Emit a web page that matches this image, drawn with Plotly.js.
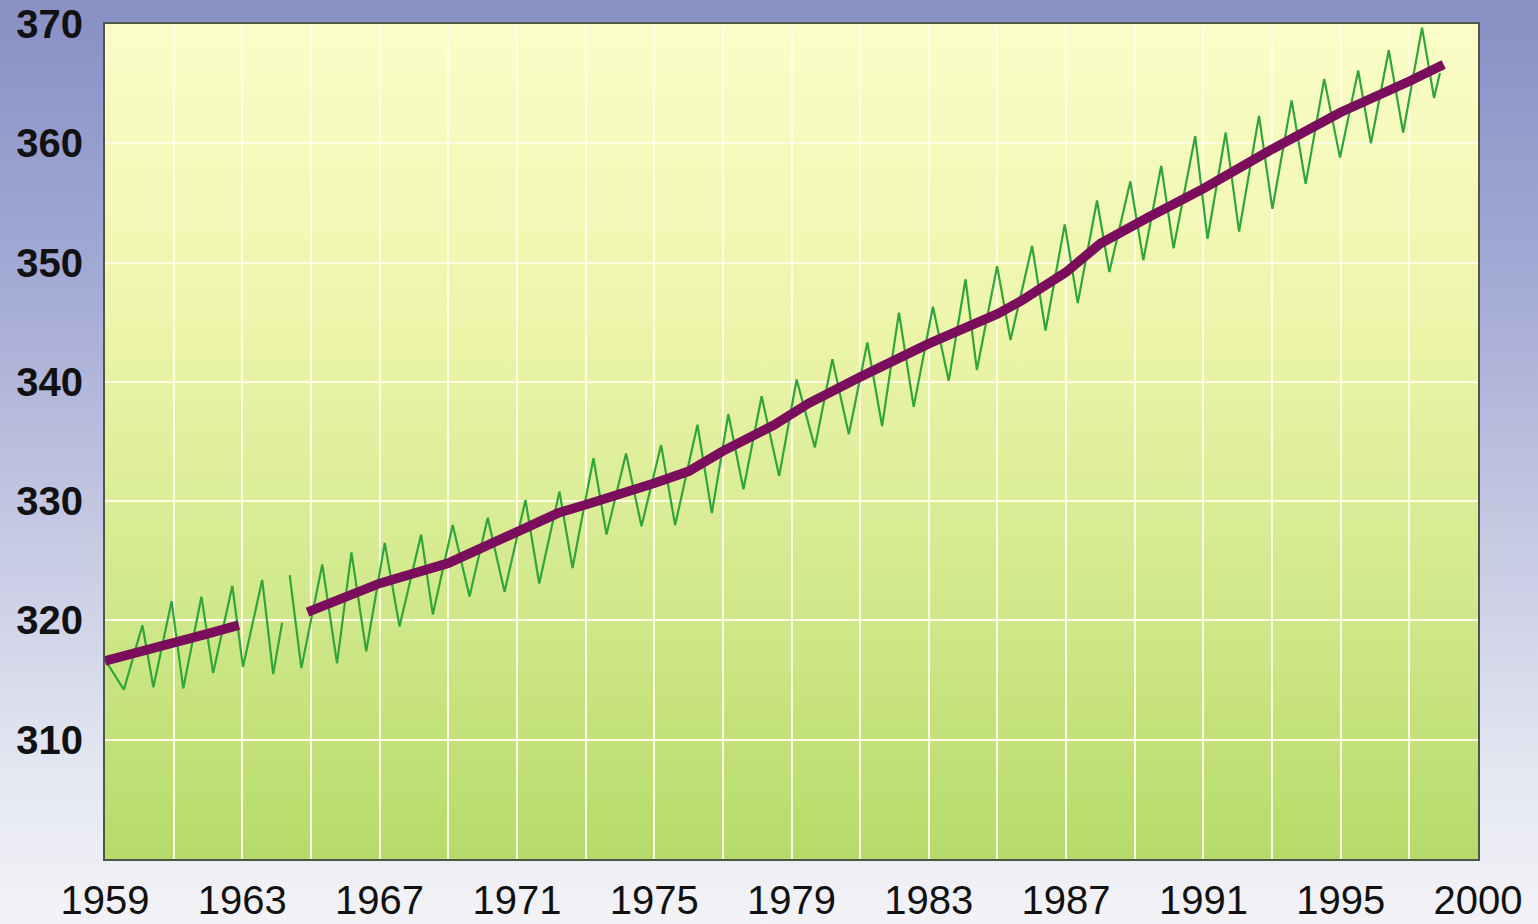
<!DOCTYPE html>
<html>
<head>
<meta charset="utf-8">
<script src="https://cdn.plot.ly/plotly-3.0.1.min.js"></script>
<style>
  html, body { margin: 0; padding: 0; width: 1538px; height: 924px; overflow: hidden;
    background: linear-gradient(to bottom, #8890c4 0%, #a3aad4 30%, #c8cce4 60%, #e6e8f2 85%, #f3f3f7 100%); }
  #chart { width: 1538px; height: 924px; }
</style>
</head>
<body>
<div id="chart"></div>
<script>
// Monthly (seasonal) CO2 curve: turning points; null = data gap
const seasonalYears = [
  1959.00, 1959.55, 1960.09, 1960.41, 1960.94, 1961.28, 1961.81, 1962.15, 1962.71, 1963.02,
  1963.58, 1963.90, 1964.16, 1964.27,
  1964.38, 1964.72, 1965.33, 1965.76, 1966.18, 1966.61, 1967.15, 1967.58, 1968.21, 1968.55,
  1969.13, 1969.62, 1970.15, 1970.64, 1971.25, 1971.65, 1972.24, 1972.62, 1973.23, 1973.61,
  1974.18, 1974.63, 1975.20, 1975.61, 1976.26, 1976.68, 1977.16, 1977.60, 1978.13, 1978.64,
  1979.15, 1979.68, 1980.19, 1980.67, 1981.21, 1981.64, 1982.13, 1982.56, 1983.12, 1983.58,
  1984.07, 1984.40, 1984.99, 1985.38, 1986.01, 1986.40, 1986.96, 1987.34, 1987.90, 1988.26,
  1988.87, 1989.25, 1989.77, 1990.13, 1990.76, 1991.12, 1991.65, 1992.04, 1992.62, 1993.01,
  1993.57, 1993.98, 1994.52, 1994.98, 1995.51, 1995.88, 1996.40, 1996.82, 1997.37, 1997.72,
  1997.89
];
const seasonalCO2 = [
  316.7, 314.2, 319.6, 314.4, 321.6, 314.3, 322.0, 315.6, 322.9, 316.1,
  323.4, 315.5, 319.8, null,
  323.8, 316.0, 324.7, 316.4, 325.7, 317.4, 326.5, 319.5, 327.2, 320.5,
  328.0, 322.0, 328.6, 322.4, 330.1, 323.1, 330.8, 324.4, 333.6, 327.2,
  334.0, 327.9, 334.7, 328.0, 336.4, 329.0, 337.3, 331.0, 338.8, 332.1,
  340.2, 334.5, 341.9, 335.6, 343.3, 336.3, 345.8, 337.9, 346.3, 340.1,
  348.6, 341.0, 349.7, 343.5, 351.4, 344.3, 353.2, 346.6, 355.2, 349.2,
  356.8, 350.2, 358.1, 351.2, 360.6, 352.0, 360.9, 352.6, 362.3, 354.5,
  363.6, 356.6, 365.4, 358.8, 366.1, 360.0, 367.8, 360.9, 369.7, 363.8,
  365.9
];

// Annual mean trend (thick purple line); null = data gap
const annualYears = [
  1959.0, 1960.0, 1961.0, 1962.0, 1962.9, 1964.0, 1964.9, 1967.0, 1969.0, 1971.0,
  1972.2, 1973.0, 1974.2, 1975.0, 1976.0, 1977.0, 1978.5, 1979.5, 1981.0, 1983.0,
  1985.0, 1985.7, 1987.0, 1988.0, 1989.4, 1991.0, 1993.0, 1995.0, 1997.0, 1998.0
];
const annualCO2 = [
  316.6, 317.3, 318.0, 318.9, 319.6, null, 320.7, 323.1, 324.8, 327.4,
  329.0, 329.7, 330.7, 331.5, 332.5, 334.2, 336.4, 338.2, 340.4, 343.2,
  345.7, 346.8, 349.2, 351.6, 353.8, 356.2, 359.5, 362.6, 365.2, 366.6
];

// Axis labels
const xTickLabels = ['1959', '1963', '1967', '1971', '1975', '1979', '1983', '1987', '1991', '1995', '2000'];
const xTickYears  = [1959, 1963, 1967, 1971, 1975, 1979, 1983, 1987, 1991, 1995, 1999];
const yTickValues = [310, 320, 330, 340, 350, 360, 370];

// vertical grid every 2 years, labels every 4
const gridYears = [];
for (let y = 1959; y <= 1999; y += 2) gridYears.push(y);
const gridText = gridYears.map(y => {
  const i = xTickYears.indexOf(y);
  return i >= 0 ? xTickLabels[i] : '';
});

const gradSvg = "<svg xmlns='http://www.w3.org/2000/svg' width='100' height='100' viewBox='0 0 100 100' preserveAspectRatio='none'>" +
  "<defs><linearGradient id='g' x1='0' y1='0' x2='0' y2='1'>" +
  "<stop offset='0' stop-color='#fbfdc8'/><stop offset='0.35' stop-color='#eef5ac'/>" +
  "<stop offset='0.7' stop-color='#d0e88a'/><stop offset='1' stop-color='#b6db6a'/>" +
  "</linearGradient></defs><rect width='100' height='100' fill='url(#g)'/></svg>";

const traces = [
  {
    x: seasonalYears, y: seasonalCO2, type: 'scatter', mode: 'lines',
    line: { color: 'rgb(48,165,58)', width: 2.2 },
    connectgaps: false, hoverinfo: 'skip'
  },
  {
    x: annualYears, y: annualCO2, type: 'scatter', mode: 'lines',
    line: { color: 'rgb(122,14,92)', width: 9.5 },
    connectgaps: false, hoverinfo: 'skip'
  }
];

const layout = {
  width: 1538, height: 924,
  margin: { l: 105, r: 60, t: 24, b: 65 },
  paper_bgcolor: 'rgba(0,0,0,0)',
  plot_bgcolor: 'rgba(0,0,0,0)',
  showlegend: false,
  images: [{
    source: 'data:image/svg+xml;base64,' + btoa(gradSvg),
    xref: 'paper', yref: 'paper', x: 0, y: 1, sizex: 1, sizey: 1,
    xanchor: 'left', yanchor: 'top', sizing: 'stretch', layer: 'below'
  }],
  xaxis: {
    range: [1959, 1999],
    tickmode: 'array', tickvals: gridYears, ticktext: gridText,
    showgrid: true, gridcolor: '#fdfde6', gridwidth: 2,
    zeroline: false,
    showline: true, mirror: true, linecolor: '#4e5648', linewidth: 2,
    ticks: 'outside', ticklen: 5, tickcolor: 'rgba(0,0,0,0)',
    tickfont: { family: 'Liberation Sans, Arial, sans-serif', size: 40, color: '#111' },
    automargin: false, fixedrange: true
  },
  yaxis: {
    range: [300, 370],
    tickmode: 'array', tickvals: yTickValues,
    showgrid: true, gridcolor: '#fdfde6', gridwidth: 2,
    zeroline: false,
    showline: true, mirror: true, linecolor: '#4e5648', linewidth: 2,
    ticks: 'outside', ticklen: 12, tickcolor: 'rgba(0,0,0,0)',
    tickfont: { family: 'Liberation Sans, Arial, sans-serif', size: 40, color: '#111', weight: 'bold' },
    automargin: false, fixedrange: true
  }
};

Plotly.newPlot('chart', traces, layout, { staticPlot: true, displayModeBar: false });
</script>
</body>
</html>
